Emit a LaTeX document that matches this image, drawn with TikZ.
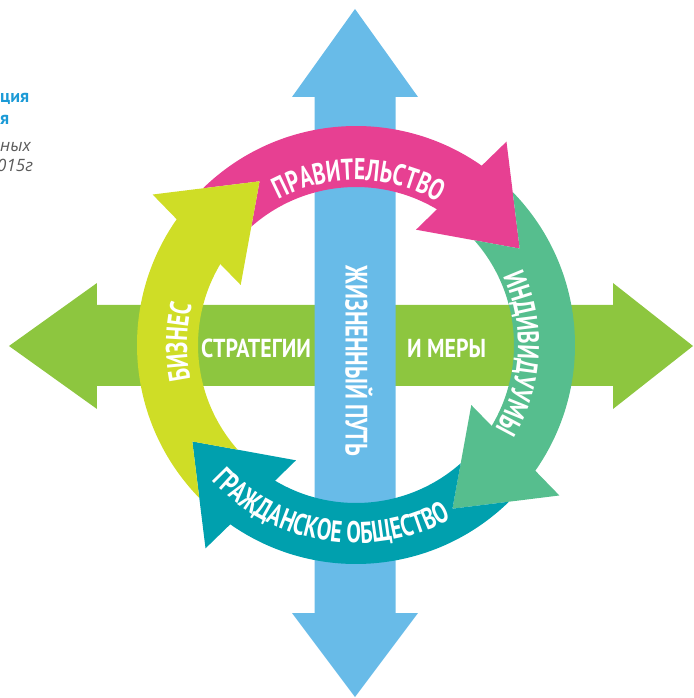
\documentclass[tikz,border=0pt]{standalone}
\usepackage{fontspec}
\usepackage{tikz}
\usetikzlibrary{decorations.text}
\newfontfamily\bandfont{PT Sans}[FakeStretch=0.72]
\newfontfamily\crossfont{PT Sans}[FakeStretch=0.84]
\newfontfamily\titlefont{PT Sans}
\newfontfamily\notefont{Open Sans}
\newcommand\bandtext{\bandfont\bfseries\fontsize{30}{31}\selectfont}
\newcommand\midtext{\crossfont\bfseries\fontsize{26}{27}\selectfont}
\definecolor{lifeblue}{RGB}{104,187,232}
\definecolor{policygreen}{RGB}{141,198,63}
\definecolor{govpink}{RGB}{231,64,146}
\definecolor{indivgreen}{RGB}{86,190,142}
\definecolor{civilteal}{RGB}{0,160,174}
\definecolor{bizyellow}{RGB}{207,221,38}
\definecolor{titleblue}{RGB}{27,154,214}
\definecolor{notegray}{RGB}{90,90,90}
% #1 colour, #2 angle of the tip
\newcommand\ringarrow[2]{%
  \fill[#1] (#2+103.8:219) arc[start angle=#2+103.8, end angle=#2+24.46, radius=219pt]
    -- (#2+23:253) -- (#2:190) -- (#2+32:130) -- (#2+28.68:158)
    arc[start angle=#2+28.68, end angle=#2+101, radius=158pt] -- (#2+90:190) -- cycle;}
\newcommand\ringlabel[4]{%
  \path[decorate, decoration={text along path, text align=center, text color=white,
    text={|\bandtext|#4}}] (#1:#3) arc[start angle=#1, end angle=#2, radius=#3pt];}
\begin{document}
\begin{tikzpicture}[x=1pt, y=1pt,
    every node/.style = { inner sep = 0pt },
    title/.style = { anchor = base west, text = titleblue, font = \titlefont\bfseries\fontsize{18}{18}\selectfont },
    note/.style = { anchor = base west, text = notegray, font = \notefont\itshape\fontsize{17}{17}\selectfont },
    label/.style = { text = white, font = \midtext }]
  \useasboundingbox (-356,-353) rectangle (337,345);

  \node [title] (t1) at (-356,242) {ция};
  \node [title] (t2) at (-356,220) {я};
  \node [note] (n1) at (-356,193) {ных};
  \node [note] (n2) at (-359,173) {015г};

  % policies, left and right
  \fill[policygreen] (-347,-1) -- (-259,62) -- (-259,40) -- (257,40) -- (257,62)
    -- (337,-1) -- (257,-64) -- (257,-41) -- (-259,-41) -- (-259,-64) -- cycle;
  % life course, up and down
  \fill[lifeblue] (-1,336) -- (62,248) -- (39.5,248) -- (39.5,-268) -- (62,-268)
    -- (-1,-352) -- (-64,-268) -- (-41.5,-268) -- (-41.5,248) -- (-64,248) -- cycle;

  \ringarrow{govpink}{30.5}
  \ringarrow{indivgreen}{-59.5}
  \ringarrow{civilteal}{210.5}
  \ringarrow{bizyellow}{120.5}

  \ringlabel{149}{29}{165}{ПРАВИТЕЛЬСТВО}
  \ringlabel{57}{-63}{162}{ИНДИВИДУУМЫ}
  \ringlabel{239}{119}{169}{БИЗНЕС}
  \ringlabel{201}{321}{198}{ГРАЖДАНСКОЕ ОБЩЕСТВО}

  \node [label] (strat) at (-100,-3) {СТРАТЕГИИ};
  \node [label] (meas) at (90.5,-3) {И МЕРЫ};
  \node [label, font = \bandfont\bfseries\fontsize{31}{32}\selectfont, rotate = -90] (life) at (3,-16) {ЖИЗНЕННЫЙ ПУТЬ};
\end{tikzpicture}
\end{document}
